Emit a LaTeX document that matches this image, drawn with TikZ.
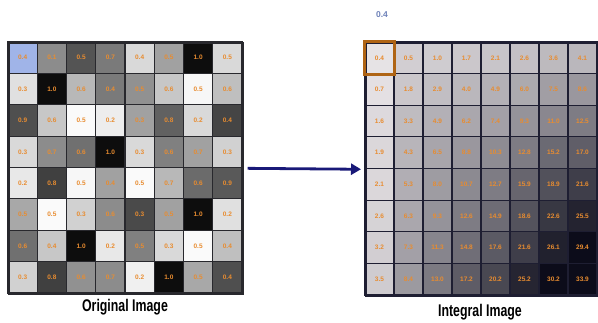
\documentclass[tikz,border=0pt]{standalone}
\usepackage{fontspec}
\setmainfont{Liberation Sans}
\usetikzlibrary{arrows.meta}

\definecolor{gridline}{RGB}{40,40,45}
\definecolor{rgridline}{RGB}{30,30,50}
\definecolor{cellnum}{RGB}{232,140,48}
\definecolor{arrowblue}{RGB}{25,25,120}
\definecolor{cornerframe}{RGB}{175,100,20}
\definecolor{notecol}{RGB}{110,130,185}
\definecolor{topleftblue}{RGB}{160,180,232}
\definecolor{intdark}{RGB}{10,10,24}
\definecolor{intlight}{RGB}{242,238,240}

\begin{document}
\begin{tikzpicture}[x=1pt,y=-1pt,
  cellfont/.style={font=\fontsize{6.5}{7}\selectfont\bfseries},
  lcell/.style={draw=gridline, line width=1.2pt, minimum width=29.25pt,
    minimum height=31.375pt, inner sep=0pt, text=cellnum, cellfont},
  rcell/.style={draw=rgridline, line width=1.2pt, minimum width=29pt,
    minimum height=31.625pt, inner sep=0pt, text=cellnum, cellfont},
  frame/.style={draw=#1, line width=1.6pt, inner sep=0pt, anchor=north west},
  caption/.style={font=\fontsize{13}{13}\selectfont\bfseries, text=black}]

\useasboundingbox[fill=white] (0,0) rectangle (598,322);

% original image: cell shade / pixel value
\foreach \row [count=\i] in {
  {topleftblue/0.4, black!45/0.1, black!67/0.5, black!52/0.7, black!15/0.4, black!37/0.5, black!95/1.0, black!15/0.5},
  {black!12/0.3, black!95/1.0, black!28/0.6, black!52/0.4, black!43/0.5, black!22/0.6, black!3/0.5, black!25/0.6},
  {black!69/0.9, black!22/0.6, black!2/0.5, black!7/0.2, black!37/0.3, black!62/0.8, black!15/0.2, black!73/0.4},
  {black!15/0.3, black!45/0.7, black!56/0.6, black!95/1.0, black!15/0.3, black!50/0.6, black!37/0.7, black!18/0.3},
  {black!9/0.2, black!75/0.8, black!3/0.5, black!37/0.4, black!2/0.5, black!28/0.7, black!58/0.6, black!65/0.9},
  {black!34/0.5, black!2/0.5, black!18/0.3, black!45/0.6, black!71/0.3, black!37/0.5, black!95/1.0, black!12/0.2},
  {black!56/0.6, black!22/0.4, black!95/1.0, black!9/0.2, black!50/0.5, black!15/0.3, black!2/0.5, black!25/0.4},
  {black!18/0.3, black!75/0.8, black!43/0.6, black!45/0.7, black!6/0.2, black!95/1.0, black!34/0.5, black!69/0.4}}{
  \foreach \c/\v [count=\j] in \row {
    \node[lcell, fill=\c] (L-\i-\j) at ({8+(\j-0.5)*29.25},{42+(\i-0.5)*31.375}) {\v};
  }
}
\node[frame=gridline, minimum width=234pt, minimum height=251pt] (Lgrid) at (8,42) {};

% integral image: running sums of the values above, darker as the sum grows
\foreach \row [count=\i] in {
  {0.4,0.5,1.0,1.7,2.1,2.6,3.6,4.1},
  {0.7,1.8,2.9,4.0,4.9,6.0,7.5,8.6},
  {1.6,3.3,4.9,6.2,7.4,9.3,11.0,12.5},
  {1.9,4.3,6.5,8.8,10.3,12.8,15.2,17.0},
  {2.1,5.3,8.0,10.7,12.7,15.9,18.9,21.6},
  {2.6,6.3,9.3,12.6,14.9,18.6,22.6,25.5},
  {3.2,7.3,11.3,14.8,17.6,21.6,26.1,29.4},
  {3.5,8.4,13.0,17.2,20.2,25.2,30.2,33.9}}{
  \foreach \v [count=\j] in \row {
    \pgfmathtruncatemacro\d{min(99,round(4+\v*3.0+(\j>1)*8))}
    \node[rcell, fill=intdark!\d!intlight] (R-\i-\j) at ({365+(\j-0.5)*29},{42+(\i-0.5)*31.625}) {\v};
  }
}
\node[frame=rgridline, minimum width=232pt, minimum height=253pt] (Rgrid) at (365,42) {};

% highlighted first entry
\draw[cornerframe, line width=3pt] (R-1-1.north west) rectangle (R-1-1.south east);
\node[text=notecol, font=\fontsize{8.5}{9}\selectfont\bfseries] (note) at (382,15) {0.4};

% transformation arrow
\draw[arrowblue, line width=2.8pt, -{Triangle[length=10pt,width=11pt]},
  shorten <=4pt, shorten >=4pt] (Lgrid.east) -- (Rgrid.west);

% captions
\node[caption] (origcap) at (125,307) {\scalebox{0.95}[1.3]{Original Image}};
\node[caption] (intcap) at (480,312) {\scalebox{0.95}[1.3]{Integral Image}};
\end{tikzpicture}
\end{document}
